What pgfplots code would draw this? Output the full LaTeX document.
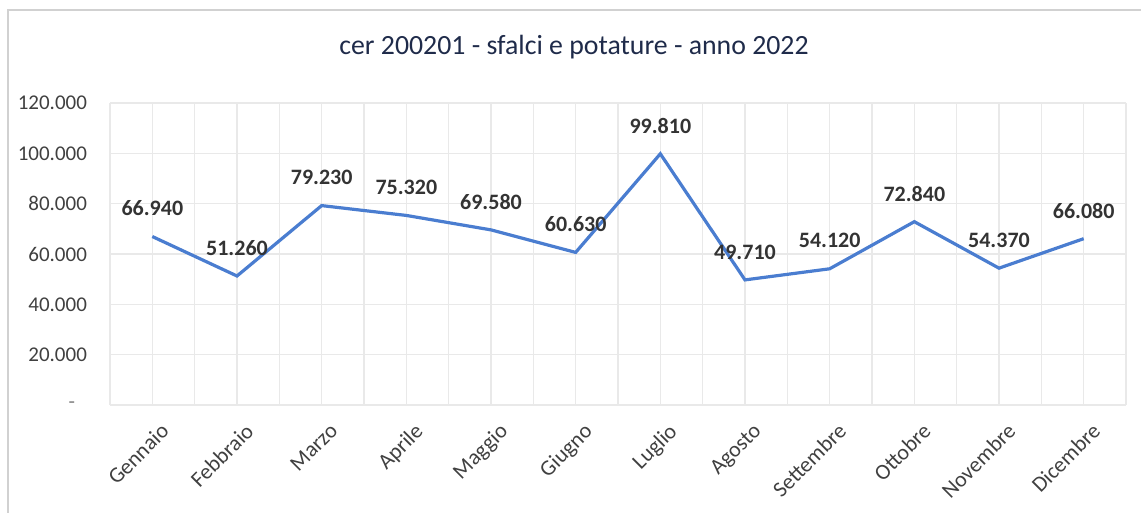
\documentclass[border=0pt]{standalone}
\usepackage{pgfplots}
\pgfplotsset{compat=1.18}
\usepackage{pgfplotstable}
\usepackage{fontspec}
\setmainfont{Carlito}

\definecolor{linea}{HTML}{4A7DD0}
\definecolor{titolo}{HTML}{1F2B4A}
\definecolor{etich}{HTML}{404040}
\definecolor{griglia}{HTML}{E9E9E9}

\pgfplotstableread{
x y
0 66940
1 51260
2 79230
3 75320
4 69580
5 60630
6 99810
7 49710
8 54120
9 72840
10 54370
11 66080
}\datiA

\begin{document}
\begin{tikzpicture}
\useasboundingbox (-55pt,-54pt) rectangle (515.5pt,202.5pt);
\draw[black!18, line width=1.2pt] (-51pt,-54pt) -- (-51pt,197.5pt) -- (515.5pt,197.5pt);
\begin{axis}[
scale only axis,
width=508pt,
height=151pt,
xmin=-0.5,xmax=11.5,
ymin=0,ymax=120000,
axis line style={draw=none},
xtick={0,...,11},
minor xtick={-0.5,0.5,...,11.5},
xticklabels={Gennaio,Febbraio,Marzo,Aprile,Maggio,Giugno,Luglio,Agosto,Settembre,Ottobre,Novembre,Dicembre},
ytick={0,20000,40000,60000,80000,100000,120000},
yticklabels={{\textcolor{black!50}{-}\rule{6pt}{0pt}},20.000,40.000,60.000,80.000,100.000,120.000},
scaled y ticks=false,
major tick length=0pt,
minor tick length=0pt,
grid=both,
major grid style={griglia, line width=0.6pt},
minor grid style={griglia, line width=0.6pt},
tick label style={font=\fontsize{10.5}{12}\selectfont, text=etich},
yticklabel style={xshift=-8pt},
xticklabel style={rotate=45, anchor=north east, yshift=-5pt, font=\fontsize{11}{12}\selectfont},
/pgf/number format/assume math mode=true,
nodes near coords={\pgfmathprintnumber[fixed, precision=0, 1000 sep={.}]{\pgfplotspointmeta}},
point meta=y,
every node near coord/.append style={font=\bfseries\fontsize{11}{12}\selectfont, text=black!80, anchor=center, yshift=14pt},
]
\addplot[linea, line width=1.6pt, mark=none] table[x=x,y=y] {\datiA};
\end{axis}
\node[font=\fontsize{13.9}{16}\selectfont, text=titolo] at (232pt,179pt) {cer 200201 - sfalci e potature - anno 2022};
\end{tikzpicture}
\end{document}
